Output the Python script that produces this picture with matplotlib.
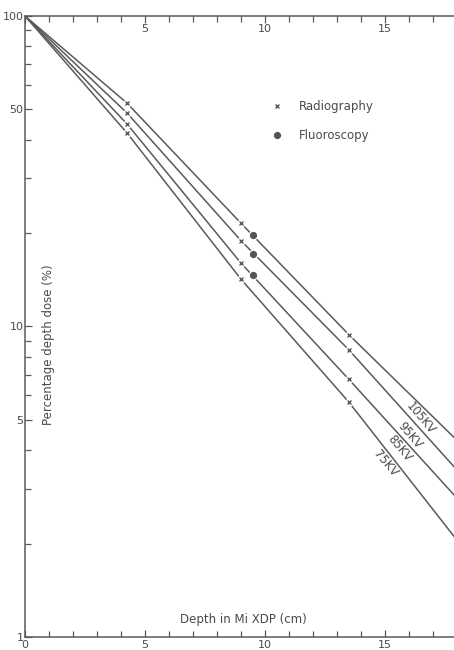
import matplotlib
matplotlib.use("Agg")
import matplotlib.pyplot as plt
from matplotlib.lines import Line2D
from matplotlib.ticker import FixedLocator, NullFormatter

# ---- data ----
kv_labels = ["105KV", "95KV", "85KV", "75KV"]
depth_cm = [0, 4.25, 9.0, 13.5, 18.0]
dose_105 = [100, 52.4, 21.5, 9.4, 4.3]
dose_95 = [100, 48.7, 18.9, 8.4, 3.45]
dose_85 = [100, 44.9, 16.0, 6.75, 2.8]
dose_75 = [100, 42.0, 14.2, 5.7, 2.05]

radio_depth = [4.25, 9.0, 13.5]
radio_105 = [52.4, 21.5, 9.4]
radio_95 = [48.7, 18.9, 8.4]
radio_85 = [44.9, 16.0, 6.75]
radio_75 = [42.0, 14.2, 5.7]

fluoro_depth = 9.5
fluoro_dose = [19.7, 17.1, 14.7]  # 105, 95, 85 kV

label_pos_x = [16.46, 16.04, 15.63, 15.0]
label_pos_y = [5.05, 4.45, 4.04, 3.61]

x_major = [0, 5, 10, 15]
y_major = [1, 5, 10, 50, 100]
y_minor = [2, 3, 4, 6, 7, 8, 9, 20, 30, 40, 60, 70, 80, 90]

# ---- style ----
ink = "#5a5a5a"
txt = "#4a4a4a"
plt.rcParams["font.family"] = ["DejaVu Sans"]

fig = plt.figure(figsize=(4.54, 6.5), dpi=100)
ax = fig.add_axes([0.0551, 0.02, 0.9449, 0.9554])

lines = [dose_105, dose_95, dose_85, dose_75]
radios = [radio_105, radio_95, radio_85, radio_75]
for d in lines:
    ax.plot(depth_cm, d, color=ink, lw=1.1, zorder=2)
for r in radios:
    ax.plot(radio_depth, r, ls="none", marker="o", ms=6, mfc="white", mec="none", zorder=3)
    ax.plot(radio_depth, r, ls="none", marker="x", ms=3.5, mew=1.0, color=ink, zorder=4)
ax.plot([fluoro_depth] * len(fluoro_dose), fluoro_dose, ls="none", marker="o",
        ms=7, mfc="white", mec="none", zorder=3)
ax.plot([fluoro_depth] * len(fluoro_dose), fluoro_dose, ls="none", marker="o",
        ms=4.2, color="#555555", zorder=4)

for lab, lx, ly in zip(kv_labels, label_pos_x, label_pos_y):
    ax.text(lx, ly, lab, rotation=-50, rotation_mode="anchor", ha="center",
            va="center", fontsize=8.5, color=txt)

ax.set_yscale("log")
ax.set_xlim(0, 17.875)
ax.set_ylim(1, 100)

ax.yaxis.set_major_locator(FixedLocator(y_major))
ax.yaxis.set_minor_locator(FixedLocator(y_minor))
ax.set_yticklabels([str(v) for v in y_major])
ax.yaxis.set_minor_formatter(NullFormatter())
ax.xaxis.set_major_locator(FixedLocator(x_major))
ax.xaxis.set_minor_locator(FixedLocator([v for v in range(1, 18) if v % 5 != 0]))
ax.set_xticklabels([str(v) for v in x_major])

ax.tick_params(axis="both", which="both", direction="in", colors=ink,
               labelcolor=txt, labelsize=8, width=0.9)
ax.tick_params(axis="both", which="major", length=5)
ax.tick_params(axis="both", which="minor", length=4)
ax.tick_params(axis="x", which="both", top=True, pad=2)
ax.tick_params(axis="y", which="major", pad=1)

sec = ax.secondary_xaxis("top")
sec.xaxis.set_major_locator(FixedLocator([5, 10, 15]))
sec.set_xticklabels(["5", "10", "15"])
sec.tick_params(axis="x", direction="in", length=0, pad=-13, labelsize=8, labelcolor=txt)
sec.spines["top"].set_visible(False)

for s in ["left", "bottom", "top"]:
    ax.spines[s].set_color(ink)
    ax.spines[s].set_linewidth(1.1)
ax.spines["right"].set_visible(False)

ax.text(0.054, 0.47, "Percentage depth dose (%)", transform=ax.transAxes,
        rotation=90, ha="center", va="center", fontsize=8.5, color=txt)
ax.text(0.51, 0.028, "Depth in Mi XDP (cm)", transform=ax.transAxes,
        ha="center", va="center", fontsize=8.5, color=txt)

handles = [
    Line2D([], [], ls="none", marker="x", ms=3.5, mew=1.0, color=ink),
    Line2D([], [], ls="none", marker="o", ms=4.2, color="#555555"),
]
ax.legend(handles, ["Radiography", "Fluoroscopy"], loc="upper left",
          bbox_to_anchor=(0.55, 0.882), frameon=False, fontsize=8.5,
          labelcolor=txt, labelspacing=1.35, handletextpad=1.3, handlelength=1.0)

fig.savefig("out.png", dpi=100, facecolor="white")
